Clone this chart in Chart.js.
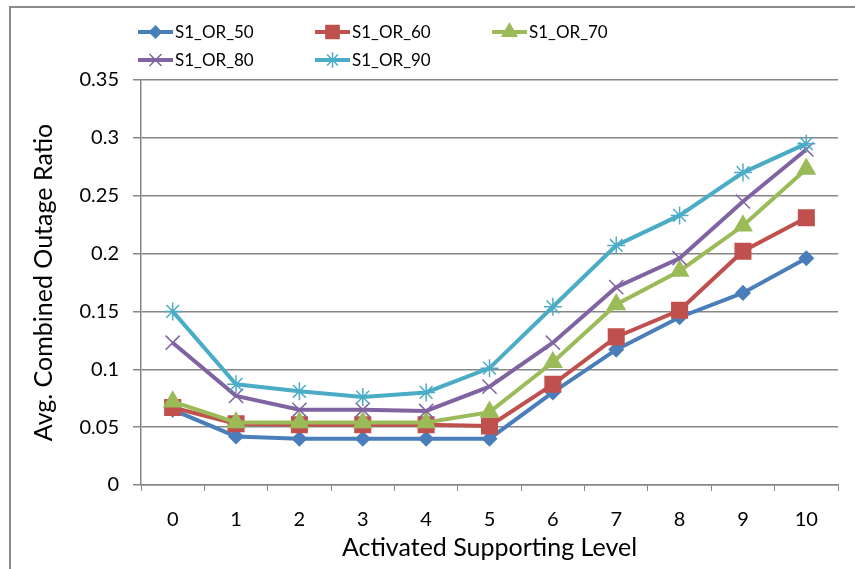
<!DOCTYPE html>
<html>
<head>
<meta charset="utf-8">
<script src="https://cdn.jsdelivr.net/npm/chart.js@4"></script>
<style>
  html, body { margin: 0; padding: 0; background: #fff; }
  #wrap { width: 855px; height: 569px; }
</style>
</head>
<body>
<div id="wrap"><canvas id="chart" width="855" height="569"></canvas></div>
<script>
const levels = ["0", "1", "2", "3", "4", "5", "6", "7", "8", "9", "10"];

const or50 = [0.065, 0.042, 0.040, 0.040, 0.040, 0.040, 0.080, 0.117, 0.145, 0.166, 0.196];
const or60 = [0.067, 0.053, 0.052, 0.052, 0.052, 0.051, 0.087, 0.128, 0.151, 0.202, 0.231];
const or70 = [0.072, 0.054, 0.054, 0.054, 0.054, 0.063, 0.106, 0.156, 0.185, 0.224, 0.273];
const or80 = [0.123, 0.077, 0.065, 0.065, 0.064, 0.085, 0.123, 0.171, 0.196, 0.245, 0.290];
const or90 = [0.150, 0.087, 0.081, 0.076, 0.080, 0.101, 0.154, 0.207, 0.233, 0.270, 0.295];

const seriesNames = ["S1_OR_50", "S1_OR_60", "S1_OR_70", "S1_OR_80", "S1_OR_90"];
const seriesValues = [or50, or60, or70, or80, or90];
const seriesColors = ["#4A7EBB", "#C0504D", "#9BBB59", "#8064A2", "#4BACC6"];
const seriesMarkers = [
  { style: "rectRot", radius: 7 },
  { style: "rect", radius: 11 },
  { style: "triangle", radius: 10 },
  { style: "crossRot", radius: 10 },
  { style: "star", radius: 9 }
];

const FONT = "Lato, 'Liberation Sans', sans-serif";
const GRID = "#868686";

// outer frame, only top and left edges show inside the canvas
const framePlugin = {
  id: "frame",
  beforeDraw(chart) {
    const ctx = chart.ctx;
    ctx.save();
    ctx.fillStyle = "#fff";
    ctx.fillRect(0, 0, chart.width, chart.height);
    ctx.strokeStyle = "#8c8c8c";
    ctx.lineWidth = 2;
    ctx.strokeRect(10, 7, chart.width + 20, chart.height + 20);
    ctx.restore();
  }
};

// three-column legend with line + marker samples
const legendPlugin = {
  id: "lineLegend",
  afterDraw(chart) {
    const ctx = chart.ctx;
    ctx.save();
    ctx.font = "17px " + FONT;
    ctx.textBaseline = "middle";
    ctx.textAlign = "left";
    chart.data.datasets.forEach((ds, i) => {
      const x0 = 138 + (i % 3) * 177;
      const y = 32 + Math.floor(i / 3) * 28;
      ctx.strokeStyle = ds.borderColor;
      ctx.lineWidth = 4;
      ctx.beginPath();
      ctx.moveTo(x0, y);
      ctx.lineTo(x0 + 35, y);
      ctx.stroke();
      ctx.fillStyle = ds.pointBackgroundColor;
      ctx.strokeStyle = ds.pointBorderColor;
      ctx.lineWidth = ds.pointBorderWidth;
      Chart.helpers.drawPoint(ctx, {
        pointStyle: ds.pointStyle,
        radius: ds.pointRadius * 0.85,
        rotation: 0,
        borderWidth: ds.pointBorderWidth
      }, x0 + 17.5, y);
      ctx.fillStyle = "#000";
      ctx.fillText(ds.label, x0 + 37, y + 1);
    });
    ctx.restore();
  }
};

const datasets = seriesNames.map((name, i) => ({
  label: name,
  data: seriesValues[i],
  borderColor: seriesColors[i],
  backgroundColor: seriesColors[i],
  borderWidth: 4,
  tension: 0,
  pointStyle: seriesMarkers[i].style,
  pointRadius: seriesMarkers[i].radius,
  pointHoverRadius: seriesMarkers[i].radius,
  pointBackgroundColor: seriesColors[i],
  pointBorderColor: seriesColors[i],
  pointBorderWidth: 1.5,
  order: seriesNames.length - i
}));

new Chart(document.getElementById("chart"), {
  type: "line",
  data: { labels: levels, datasets: datasets },
  plugins: [framePlugin, legendPlugin],
  options: {
    responsive: false,
    animation: false,
    layout: { padding: { left: 0, top: 80, right: 17, bottom: 0 } },
    plugins: { legend: { display: false }, tooltip: { enabled: false } },
    scales: {
      x: {
        type: "category",
        offset: true,
        afterFit(scale) { scale.height = 84; },
        grid: { display: true, drawOnChartArea: false, drawTicks: true, tickLength: 6, color: GRID, offset: true },
        border: { color: GRID, width: 1.5 },
        ticks: { color: "#000", font: { family: FONT, size: 20 }, padding: 17, maxRotation: 0 },
        title: {
          display: true,
          text: "Activated Supporting Level",
          color: "#000",
          font: { family: FONT, size: 25 },
          padding: { top: 0, bottom: 6 }
        }
      },
      y: {
        min: 0,
        max: 0.35,
        afterFit(scale) { scale.width = 141; },
        grid: { color: GRID, lineWidth: 1.5, tickLength: 8 },
        border: { color: GRID, width: 1.5 },
        ticks: {
          stepSize: 0.05,
          color: "#000",
          font: { family: FONT, size: 20 },
          padding: 14,
          callback: v => String(+v.toFixed(2))
        },
        title: {
          display: true,
          text: "Avg. Combined Outage Ratio",
          color: "#000",
          font: { family: FONT, size: 25 },
          padding: { top: 29, bottom: 0 }
        }
      }
    }
  }
});
</script>
</body>
</html>
